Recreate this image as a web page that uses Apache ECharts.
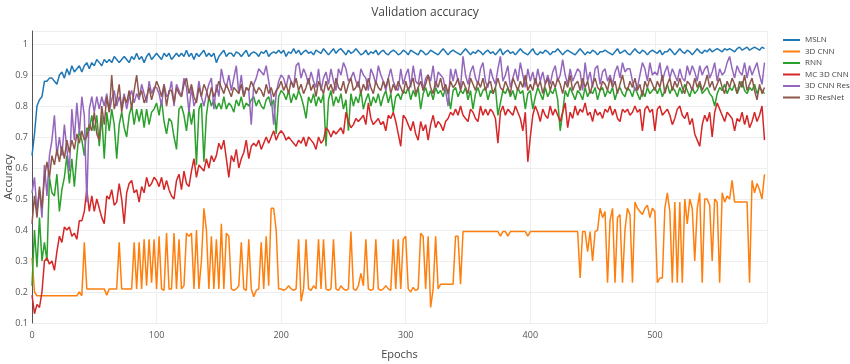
<!DOCTYPE html>
<html><head><meta charset="utf-8">
<script src="https://cdn.jsdelivr.net/npm/echarts@6/dist/echarts.min.js"></script>
<style>html,body{margin:0;padding:0;background:#fff}#c{width:850px;height:364px}</style>
</head><body><div id="c"></div>
<script>
// Validation accuracy (in %) sampled every 2 epochs, epochs 0..588
const EPOCH_STEP = 2;
const seriesNames = ['MSLN', '3D CNN', 'RNN', 'MC 3D CNN', '3D CNN Res', '3D ResNet'];
const xTickLabels = [0, 100, 200, 300, 400, 500];
const yTickLabels = [0.1, 0.2, 0.3, 0.4, 0.5, 0.6, 0.7, 0.8, 0.9, 1];

const msln = [
64,71,80,82,83,88,88,89,89,88,
87,90,91,89,92,90,93,91,92,93,
91,93,94,92,94,93,95,94,93,95,
94,95,94,96,95,94,95,96,95,94,
96,95,97,95,96,94,96,97,95,96,
97,96,95,97,96,97,95,96,97,96,
97,96,98,96,97,95,97,96,97,98,
96,97,96,97,94,96,97,98,96,97,
97,96,97.5,97,96,97,98,96,97,97.5,
97,96,97.5,97,98,96,97,97.5,97,98,
97,98,96,97.5,97,98.5,97,98,96.5,97.5,
98,97,97.5,96.5,98,97.5,97,98.5,97.5,96.5,
97.5,98.5,97,98,98.5,97.5,96.5,98,97,97.5,
98.5,97.5,96.5,97,98,96.5,97.5,97,98,96.5,
97.5,98,97,96.5,97.5,98,97.5,96.5,97,98,
97.5,96.5,98,97.5,97,96.5,98,97.5,96.5,97,
98,97.5,97,96.5,97.5,98.5,97.5,96.5,97.5,98,
97.5,97,96.5,97.5,98.5,97.5,96.5,97.5,97,98,
97.5,96.5,97.5,98,97,97.5,96.5,97.5,98.5,96.5,
97.5,98,97,97.5,96.5,97.5,98.5,97.5,97,96.5,
97.5,98.5,97,96.5,97.5,97,98,97.5,96.5,97.5,
97.5,98.5,97.5,96.5,97.5,98,97.5,97,96.5,97.5,
98.5,97.5,96.5,97.5,97,98,97.5,96.5,97.5,97.5,
98,97.5,97,96.5,97.5,98.5,97,97.5,98,97,
96.5,97.5,98.5,97.5,97,98,97.5,96.5,97.5,98,
97.5,97,98,96.5,97.5,97.5,98.5,97.5,96.5,97.5,
98.5,97.5,97,98,97.5,96.5,97.5,98.5,97.5,97,
98,97.5,98.5,97.5,98,98.5,98,97.5,98.5,98,
98.5,98,97.5,98.5,99,98,98.5,99,98,98.5,
99,98.5,98,99,98.5
];

const cnn3d = [
31,20,18.8,18.8,18.8,18.8,18.8,18.8,18.8,18.8,
18.8,18.8,18.8,18.8,18.8,18.8,18.8,18.8,18.8,20,
18.8,36,21,21,21,21,21,21,21,21,
19,21,21,21,21,36,21,21,21,21,
21,36,21,36,21,37,22,37,23,37,
21,38,21,20.5,39,21,21,39,21,37,
21,22,39,38,39,21,40,21,30,47,
40,21,38,21,37,21,42,21,39,38,
21,20.5,21,22,36,21,20.5,37,21,18.5,
20.5,21,36,21,38,22,47,47,40,21,
21,20.5,21,22,21,20.5,21,37,17,21,
37,21,20.5,22,21,37,21,37,21,20.5,
21,37,21,20.5,22,21,20.5,21,39.5,21,
20.5,22,26,22,37,21,20.5,21,37,21,
20.5,21,22,21,20.5,37,21,37,21,37,
38,21,20,21.5,20.5,21,39,38,21,38,
15,21,38,21,22.5,22.5,22.5,22.5,22.5,22.5,
38,38,22.5,39.5,39.5,39.5,39.5,39.5,39.5,39.5,
39.5,39.5,39.5,39.5,39.5,39.5,39.5,39.5,38,39.5,
39.5,38,39.5,39.5,39.5,39.5,39.5,39.5,39.5,38,
39.5,39.5,39.5,39.5,39.5,39.5,39.5,39.5,39.5,39.5,
39.5,39.5,39.5,39.5,39.5,39.5,39.5,39.5,39.5,39.5,
24.5,39.5,39.5,33,39.5,30,39.5,40,47,44,
46,23,43,47,23,44,45,23,40,47,
45,23,49,47,46,45,47,48,44,47,
46,23,24.5,24.5,47,52,46,23,49,23,
49,23,50,42,50,47,30,47,52,23,
50,50,48,30,50,49,23,52,49,51,
50,56,49,49,49,49,49,49,23,56,
52,55,53,50,58
];

const rnn = [
22,40,28,44,30,36,30,57,52,51,
58,46,53,57,64,55,63,54,64,72,
69,64,73,72,77,72,77,67,77,63,
78,72,79,74,63,74,78,73,70,77,
80,74,79,75,79,73,79,74,78,79,
81,77,82,75,71,76,75,70,66,79,
80,77,72,79,74,79,61,79,81,62,
77,83,80,82,79,81,79,83,79,81,
80,78,82,80,83,79,81,80,82,83,
80,82,80,79,82,83,80,82,71,83,
85,84,82,85,81,84,82,85,83,80,
76,83,81,84,80,83,81,84,67,82,
85,80,83,81,84,79,82,72,84,80,
83,81,85,79,82,84,80,83,81,84,
80,83,85,81,84,78,83,84,82,85,
84,86,82,85,83,86,79,84,86,83,
85,82,86,84,85,83,86,84,79,85,
86,83,85,84,86,82,85,79,84,86,
83,85,86,82,85,84,86,77,81,85,
84,86,83,85,82,86,84,85,79,84,
85,79,83,86,84,82,86,83,85,84,
86,82,72,78,85,83,86,84,82,85,
84,82,86,83,85,84,86,82,85,86,
83,85,84,86,82,85,86,84,83,86,
85,83,86,84,82,85,83,86,84,85,
86,84,86,83,85,87,84,86,85,83,
86,84,87,85,83,86,84,85,87,84,
85,86,84,83,80,84,86,85,87,84,
86,85,87,84,86,88,85,84,86,85,
87,84,86,85,84
];

const mc3dcnn = [
19,13,16,15,20,30,31,29,30,27,
33,38,36,41,40,41,38,39,37,43,
43,46,53,46,51,46,50,47,44,42,
51,50,53,48,49,55,50,42,52,55,
56,52,53,49,54,52,57,54,55,57,
56,54,57,53,56,53,51,50,56,58,
53,59,55,54,59,63,57,61,60,59,
63,60,64,62,64,68,66,69,63,57,
64,62,66,60,63,65,69,63,67,68,
67,69,66,68,70,68,70,72,69,71,
72,71,69,70,69,68,67,69,68,70,
67,70,69,68,66,70,68,69,73,72,
70,72,71,72,73,71,78,75,73,74,
76,75,76,77,74,81,76,74,75,76,
74,75,72,77,76,78,75,71,67,77,
76,74,72,75,71,69,75,72,74,69,
74,77,73,75,74,72,75,76,78,77,
79,77,80,77,76,75,79,78,76,75,
80,77,79,77,79,78,76,68,78,80,
77,79,78,77,80,78,76,72,78,62,
70,77,80,78,75,79,77,76,80,77,
79,77,75,78,81,73,78,76,80,77,
79,78,81,77,78,75,79,77,78,76,
79,78,80,77,79,76,75,79,78,79,
77,78,80,78,79,72,79,80,78,79,
72,79,80,77,78,79,77,74,76,79,
80,77,76,78,74,76,71,69,67,74,
77,75,78,70,78,81,79,77,75,78,
77,76,72,76,75,78,74,77,73,75,
78,75,77,80,69
];

const cnn3dRes = [
52,57,46,53,44,61,51,64,69,77,
64,70,64,74,66,59,79,69,81,71,
83,77,49,79,83,78,83,79,83,80,
84,78,82,85,80,83,80,84,79,83,
85,81,84,82,87,84,81,88,84,86,
86,84,80,87,83,84,88,80,87,85,
83,89,86,78,86,80,82,88,83,80,
84,87,89,79,87,83,92,88,86,90,
85,89,93,84,90,83,86,85,74,87,
89,92,91,90,93,88,83,74,84,88,
90,89,86,90,88,86,93,94,89,92,
90,87,91,88,86,92,85,89,91,87,
92,88,85,92,90,94,92,88,89,91,
88,86,92,90,89,85,92,90,87,93,
90,88,85,89,92,88,86,85,92,87,
90,92,86,93,88,87,92,85,89,90,
88,93,86,91,90,89,85,80,92,88,
92,88,86,96,90,87,91,93,89,87,
92,94,88,86,92,89,87,92,96,88,
90,93,86,89,92,88,94,90,86,92,
88,91,87,92,88,91,87,90,87,91,
93,88,90,95,90,87,92,88,90,92,
91,85,94,88,91,86,92,93,87,91,
92,88,90,87,91,93,89,94,91,92,
92,88,85,86,90,94,92,88,94,90,
91,90,94,88,91,93,89,92,90,88,
92,89,88,93,90,93,91,88,93,90,
92,93,89,91,94,88,92,90,91,94,
96,92,89,93,91,90,94,89,93,90,
92,94,90,87,94
];

const resnet3d = [
42,51,44,54,47,57,62,57,64,61,
66,62,67,63,69,65,69,66,71,68,
72,69,70,74,72,78,71,69,80,74,
83,78,90,79,82,87,78,83,81,85,
79,85,90,83,85,81,83,86,82,85,
88,86,83,87,80,85,85,81,86,84,
83,87,89,84,87,83,81,86,83,87,
85,82,86,83,85,88,86,84,87,85,
83,86,85,84,87,83,86,85,88,86,
84,86,85,83,87,84,86,83,85,86,
88,85,87,84,88,86,89,85,87,84,
86,89,85,87,83,88,86,84,88,85,
87,84,89,86,85,88,84,87,89,85,
86,88,84,87,85,89,86,84,88,86,
85,88,86,89,84,87,85,88,86,84,
88,85,87,89,84,86,88,85,87,90,
86,84,88,86,89,85,87,84,88,86,
87,89,85,88,86,84,89,87,85,88,
86,89,85,87,88,84,86,89,86,85,
88,86,84,89,87,85,88,86,90,85,
87,85,89,86,88,84,87,89,85,88,
86,89,87,84,88,86,90,85,87,88,
85,89,86,88,84,87,89,86,85,88,
87,85,89,86,88,84,87,90,86,85,
88,86,89,85,87,83,88,86,89,87,
85,88,86,90,84,87,89,85,88,86,
89,86,84,88,87,85,89,86,88,85,
87,90,86,88,85,87,89,86,84,88,
86,89,87,84,88,86,90,85,87,89,
85,82,87,84,86
];

const seriesData = [msln, cnn3d, rnn, mc3dcnn, cnn3dRes, resnet3d];
const colors = ['#1f77b4', '#ff7f0e', '#2ca02c', '#d62728', '#9467bd', '#8c564b'];
const FONT = '"Open Sans", "Noto Sans", sans-serif';

function toPoints(arr) { return arr.map((v, i) => [i * EPOCH_STEP, v / 100]); }

const chart = echarts.init(document.getElementById('c'), null, { renderer: 'canvas' });
chart.setOption({
  animation: false,
  backgroundColor: '#fff',
  color: colors,
  title: {
    text: 'Validation accuracy', left: 'center', top: 2,
    textStyle: { fontFamily: FONT, fontSize: 12, fontWeight: 'normal', color: '#444' }
  },
  legend: {
    orient: 'vertical', left: 778, top: 30,
    icon: 'rect', itemWidth: 17, itemHeight: 2, itemGap: 1.5,
    textStyle: { fontFamily: FONT, fontSize: 8, color: '#444', lineHeight: 10 },
    data: seriesNames
  },
  grid: { left: 32, right: 83, top: 31, bottom: 41, containLabel: false, outerBoundsMode: 'none' },
  xAxis: {
    type: 'value', min: 0, max: 590, interval: 100,
    name: 'Epochs', nameLocation: 'middle', nameGap: 26, nameMoveOverlap: false,
    nameTextStyle: { fontFamily: FONT, fontSize: 11, color: '#444' },
    axisLine: { show: false }, axisTick: { show: false },
    axisLabel: {
      fontFamily: FONT, fontSize: 9, color: '#555', margin: 8, showMaxLabel: false,
      formatter: v => (xTickLabels.indexOf(v) >= 0 ? String(v) : '')
    },
    splitLine: { show: true, lineStyle: { color: '#eee', width: 1 } }
  },
  yAxis: {
    type: 'value', min: 0.1, max: 1.042, interval: 0.1,
    name: 'Accuracy', nameLocation: 'middle', nameGap: 18, nameRotate: 90, nameMoveOverlap: false,
    nameTextStyle: { fontFamily: FONT, fontSize: 11, color: '#444' },
    axisLine: { show: true, lineStyle: { color: '#555', width: 1 } },
    axisTick: { show: false },
    axisLabel: {
      fontFamily: FONT, fontSize: 9, color: '#555', margin: 4, showMaxLabel: false,
      formatter: v => {
        const r = Math.round(v * 10) / 10;
        return yTickLabels.indexOf(r) >= 0 && Math.abs(r - v) < 1e-6 ? String(r) : '';
      }
    },
    splitLine: { show: true, lineStyle: { color: '#eee', width: 1 } }
  },
  series: seriesNames.map((name, k) => ({
    name: name, type: 'line', data: toPoints(seriesData[k]),
    showSymbol: false, symbol: 'none',
    lineStyle: { width: 1.5, color: colors[k] }, itemStyle: { color: colors[k] }
  }))
});
</script>
</body></html>
